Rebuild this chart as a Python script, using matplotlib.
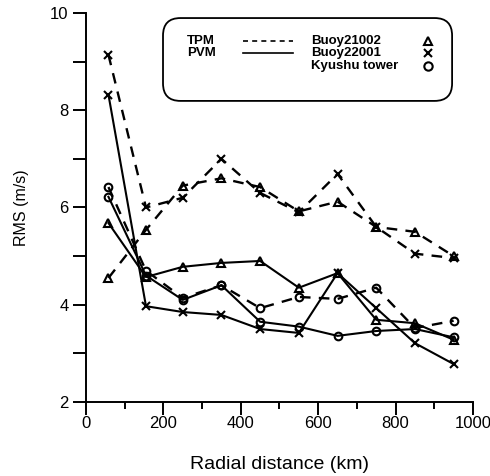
import matplotlib
matplotlib.use("Agg")
import matplotlib.pyplot as plt
from matplotlib.lines import Line2D
from matplotlib.patches import FancyBboxPatch
from matplotlib.ticker import MultipleLocator

plt.rcParams["font.family"] = ["Liberation Sans", "DejaVu Sans"]

# Radial distance bins (km)
distance = [58, 155, 250, 350, 450, 550, 650, 750, 850, 950]

# RMS (m/s), TPM = dashed, PVM = solid
tpm_buoy21002 = [4.55, 5.54, 6.45, 6.6, 6.42, 5.92, 6.12, 5.6, 5.5, 5.0]
tpm_buoy22001 = [9.14, 6.0, 6.2, 7.0, 6.3, 5.9, 6.69, 5.6, 5.05, 4.96]
tpm_kyushu = [6.42, 4.7, 4.14, 4.4, 3.93, 4.16, 4.12, 4.35, 3.52, 3.67]

pvm_buoy21002 = [5.68, 4.57, 4.78, 4.86, 4.9, 4.35, 4.65, 3.69, 3.62, 3.28]
pvm_buoy22001 = [8.32, 3.97, 3.85, 3.79, 3.5, 3.42, 4.65, 3.93, 3.21, 2.78]
pvm_kyushu = [6.22, 4.6, 4.1, 4.4, 3.65, 3.55, 3.36, 3.46, 3.5, 3.33]

stations = ["Buoy21002", "Buoy22001", "Kyushu tower"]
markers = ["^", "x", "o"]

fig = plt.figure(figsize=(4.9, 4.76), dpi=100)
ax = fig.add_axes([0.1755, 0.1555, 0.7898, 0.8172])

dash = (0, (4.5, 3.5))
for ys, m in zip([tpm_buoy21002, tpm_buoy22001, tpm_kyushu], markers):
    ax.plot(distance, ys, color="black", linestyle=dash, linewidth=1.7,
            marker=m, markersize=5.5, markerfacecolor="none",
            markeredgewidth=1.5)
for ys, m in zip([pvm_buoy21002, pvm_buoy22001, pvm_kyushu], markers):
    ax.plot(distance, ys, color="black", linestyle="-", linewidth=1.5,
            marker=m, markersize=5.5, markerfacecolor="none",
            markeredgewidth=1.5)

ax.set_xlim(0, 1000)
ax.set_ylim(2, 10)
ax.xaxis.set_major_locator(MultipleLocator(200))
ax.xaxis.set_minor_locator(MultipleLocator(100))
ax.yaxis.set_major_locator(MultipleLocator(2))
ax.yaxis.set_minor_locator(MultipleLocator(1))

for side in ["top", "right"]:
    ax.spines[side].set_visible(False)
for side in ["left", "bottom"]:
    ax.spines[side].set_linewidth(1.4)

ax.tick_params(axis="x", which="major", direction="out", length=9, width=1.4,
               pad=1, labelsize=12)
ax.tick_params(axis="x", which="minor", direction="out", length=5, width=1.4)
ax.tick_params(axis="y", which="both", direction="out", length=9.5, width=1.4,
               pad=3, labelsize=12)

ax.set_xlabel("Radial distance (km)", fontsize=14, labelpad=18)
ax.set_ylabel("RMS (m/s)", fontsize=11.5, labelpad=15)

# Legend box drawn by hand (two-part layout like the original)
box = FancyBboxPatch((0.199, 0.774), 0.747, 0.213, transform=ax.transAxes,
                     boxstyle="round,pad=0,rounding_size=0.045",
                     facecolor="white", edgecolor="black", linewidth=1.3,
                     zorder=5)
ax.add_patch(box)

row_y = [0.928, 0.897, 0.865]
legend_font = dict(fontsize=9.5, fontweight="bold", va="center", ha="left",
                   zorder=6, transform=ax.transAxes)
ax.text(0.261, row_y[0], "TPM", **legend_font)
ax.text(0.261, row_y[1], "PVM", **legend_font)
ax.add_line(Line2D([0.406, 0.535], [row_y[0], row_y[0]], transform=ax.transAxes,
                   color="black", linestyle=(0, (3, 2.5)), linewidth=1.2,
                   zorder=6))
ax.add_line(Line2D([0.406, 0.535], [row_y[1], row_y[1]], transform=ax.transAxes,
                   color="black", linestyle="-", linewidth=1.2, zorder=6))
for y, name, m in zip(row_y, stations, markers):
    ax.text(0.581, y, name, **legend_font)
    ax.add_line(Line2D([0.884], [y], transform=ax.transAxes, marker=m,
                       markersize=6, markerfacecolor="none",
                       markeredgecolor="black", markeredgewidth=1.5,
                       linestyle="none", zorder=6))

fig.savefig("out.png", dpi=100)
